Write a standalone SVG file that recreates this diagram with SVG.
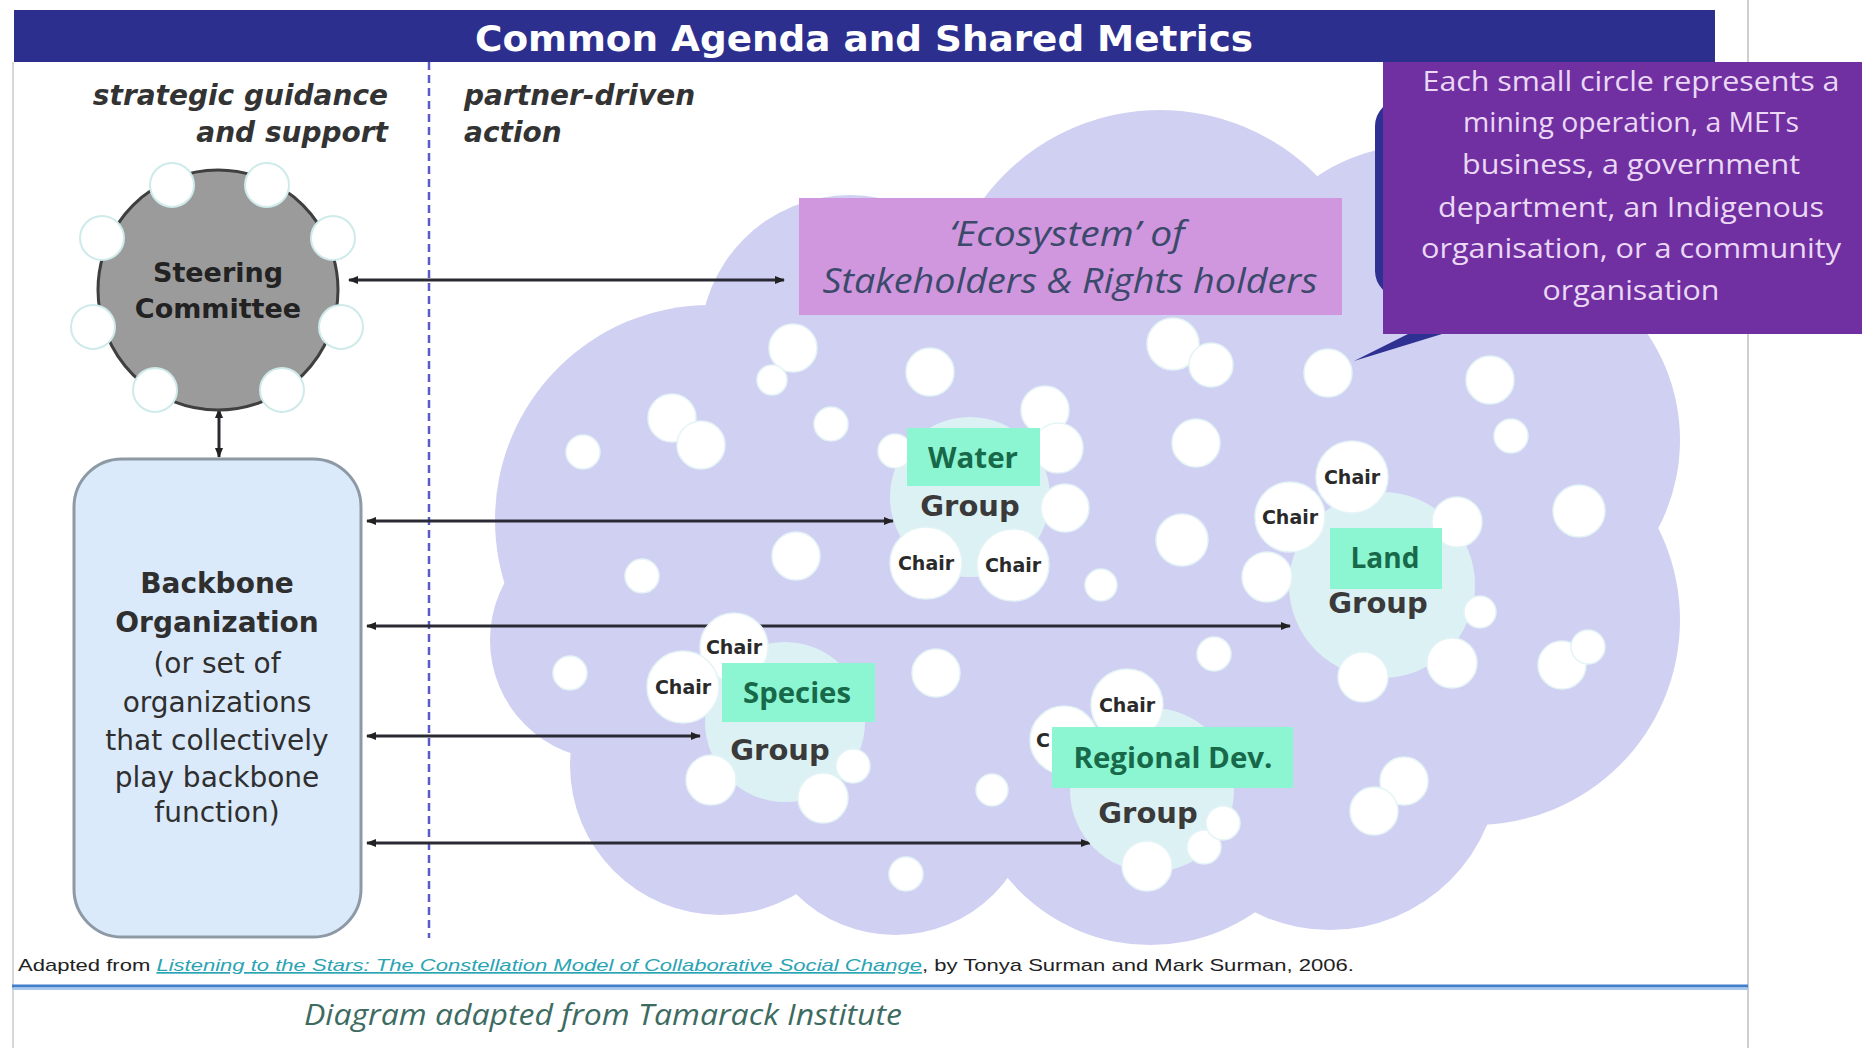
<svg xmlns="http://www.w3.org/2000/svg" width="1862" height="1048" viewBox="0 0 1862 1048">
<defs>
<style>
.dv{font-family:"DejaVu Sans",Verdana,sans-serif}
.lb{font-family:"Liberation Sans",Arial,sans-serif}
.os{font-family:"Open Sans","Noto Sans",sans-serif}
.cloud{fill:#d0d0f2}
.dot{fill:#ffffff;stroke:#e4f4f6;stroke-width:1.5}
.blob{fill:#dcf1f4}
.gbox{fill:#8cf6d2}
.gtxt{font-family:"Open Sans","Noto Sans",sans-serif;font-weight:700;fill:#17694a;text-anchor:middle}
.grp{font-family:"DejaVu Sans",sans-serif;font-weight:700;fill:#3a3a3a;text-anchor:middle;font-size:29px}
.chair{font-family:"DejaVu Sans",sans-serif;font-weight:700;fill:#2a2a2a;text-anchor:middle;font-size:19px}
.conn{stroke:#2a2a35;stroke-width:3;fill:none;marker-start:url(#ah);marker-end:url(#ah)}
.sc{fill:#ffffff;stroke:#cfeaea;stroke-width:2}
.bb{font-family:"DejaVu Sans",sans-serif;fill:#2f2f2f;text-anchor:middle;font-size:28px}
.ct{font-family:"Open Sans","Noto Sans",sans-serif;fill:#ead8f4;text-anchor:middle;font-size:28px}
</style>
<marker id="ah" viewBox="0 0 10 10" refX="9" refY="5" markerWidth="12" markerHeight="10" markerUnits="userSpaceOnUse" orient="auto-start-reverse">
<path d="M0,1 L10,5 L0,9 z" fill="#222"/>
</marker>
</defs>

<rect x="0" y="0" width="1862" height="1048" fill="#ffffff"/>

<!-- frame lines -->
<line x1="13" y1="62" x2="13" y2="1048" stroke="#d8d8d8" stroke-width="2"/>
<line x1="1748" y1="0" x2="1748" y2="1048" stroke="#cfcfcf" stroke-width="2"/>

<!-- header -->
<g id="header">
<rect x="14" y="10" width="1701" height="52" fill="#2d2f8f"/>
<text x="864" y="51" class="dv" font-weight="700" font-size="36" fill="#ffffff" text-anchor="middle" textLength="778" lengthAdjust="spacingAndGlyphs">Common Agenda and Shared Metrics</text>
</g>

<!-- column labels -->
<g id="labels">
<text x="388" y="105" class="dv" font-weight="700" font-style="italic" font-size="28" fill="#333333" text-anchor="end">strategic guidance</text>
<text x="388" y="142" class="dv" font-weight="700" font-style="italic" font-size="28" fill="#333333" text-anchor="end">and support</text>
<text x="464" y="105" class="dv" font-weight="700" font-style="italic" font-size="28" fill="#333333">partner-driven</text>
<text x="464" y="142" class="dv" font-weight="700" font-style="italic" font-size="28" fill="#333333">action</text>
</g>

<line x1="429" y1="62" x2="429" y2="938" stroke="#5a5ac8" stroke-width="2.5" stroke-dasharray="8 5"/>

<!-- cloud -->
<g id="ecosystem-cloud" class="cloud">
<ellipse cx="1120" cy="560" rx="400" ry="260"/>
<circle cx="850" cy="345" r="150"/>
<circle cx="1160" cy="330" r="220"/>
<circle cx="1420" cy="330" r="185"/>
<circle cx="1490" cy="440" r="190"/>
<circle cx="710" cy="520" r="215"/>
<circle cx="610" cy="640" r="120"/>
<circle cx="720" cy="765" r="150"/>
<circle cx="895" cy="795" r="140"/>
<circle cx="1150" cy="760" r="185"/>
<circle cx="1330" cy="760" r="170"/>
<circle cx="1475" cy="620" r="205"/>
</g>

<!-- callout -->
<g id="callout">
<rect x="1375" y="100" width="120" height="197" rx="26" fill="#2e3192"/>
<polygon points="1354,361 1408,334 1442,334" fill="#2e3192"/>
<rect x="1383" y="62" width="479" height="272" fill="#7030a2"/>
<text x="1631" y="91" class="ct" textLength="417" lengthAdjust="spacingAndGlyphs">Each small circle represents a</text>
<text x="1631" y="132" class="ct" textLength="336" lengthAdjust="spacingAndGlyphs">mining operation, a METs</text>
<text x="1631" y="174" class="ct" textLength="338" lengthAdjust="spacingAndGlyphs">business, a government</text>
<text x="1631" y="217" class="ct" textLength="386" lengthAdjust="spacingAndGlyphs">department, an Indigenous</text>
<text x="1631" y="258" class="ct" textLength="420" lengthAdjust="spacingAndGlyphs">organisation, or a community</text>
<text x="1631" y="300" class="ct" textLength="177" lengthAdjust="spacingAndGlyphs">organisation</text>
</g>

<!-- ecosystem label -->
<g id="ecosystem-label">
<rect x="799" y="198" width="543" height="117" fill="#d096de"/>
<text x="1067" y="246" class="os" font-style="italic" font-size="34" fill="#3b4a6b" text-anchor="middle" textLength="235" lengthAdjust="spacingAndGlyphs">‘Ecosystem’ of</text>
<text x="1070" y="293" class="os" font-style="italic" font-size="34" fill="#3b4a6b" text-anchor="middle" textLength="495" lengthAdjust="spacingAndGlyphs">Stakeholders &amp; Rights holders</text>
</g>

<!-- connectors -->
<g id="connectors">
<line class="conn" x1="349" y1="280" x2="784" y2="280"/>
<line class="conn" x1="219" y1="409" x2="219" y2="457"/>
<line class="conn" x1="367" y1="521" x2="893" y2="521"/>
<line class="conn" x1="367" y1="626" x2="1290" y2="626"/>
<line class="conn" x1="367" y1="736" x2="700" y2="736"/>
<line class="conn" x1="367" y1="843" x2="1090" y2="843"/>
</g>

<!-- free-standing stakeholder circles -->
<g id="stakeholders">
<circle class="dot" cx="793" cy="348" r="24"/>
<circle class="dot" cx="772" cy="380" r="15"/>
<circle class="dot" cx="930" cy="372" r="24"/>
<circle class="dot" cx="672" cy="418" r="24"/>
<circle class="dot" cx="701" cy="445" r="24"/>
<circle class="dot" cx="583" cy="452" r="17"/>
<circle class="dot" cx="831" cy="424" r="17"/>
<circle class="dot" cx="1173" cy="344" r="26"/>
<circle class="dot" cx="1211" cy="365" r="22"/>
<circle class="dot" cx="1328" cy="373" r="24"/>
<circle class="dot" cx="1490" cy="380" r="24"/>
<circle class="dot" cx="1196" cy="443" r="24"/>
<circle class="dot" cx="1511" cy="436" r="17"/>
<circle class="dot" cx="1182" cy="540" r="26"/>
<circle class="dot" cx="1579" cy="511" r="26"/>
<circle class="dot" cx="796" cy="556" r="24"/>
<circle class="dot" cx="642" cy="576" r="17"/>
<circle class="dot" cx="1101" cy="585" r="16"/>
<circle class="dot" cx="1562" cy="665" r="24"/>
<circle class="dot" cx="1588" cy="647" r="17"/>
<circle class="dot" cx="1214" cy="654" r="17"/>
<circle class="dot" cx="936" cy="673" r="24"/>
<circle class="dot" cx="570" cy="673" r="17"/>
<circle class="dot" cx="992" cy="790" r="16"/>
<circle class="dot" cx="1404" cy="781" r="24"/>
<circle class="dot" cx="1374" cy="811" r="24"/>
<circle class="dot" cx="906" cy="874" r="17"/>
</g>

<!-- Water group -->
<g id="water-group">
<circle class="blob" cx="970" cy="497" r="80"/>
<circle class="dot" cx="895" cy="451" r="17"/>
<circle class="dot" cx="1045" cy="410" r="24"/>
<circle class="dot" cx="1058" cy="448" r="25"/>
<circle class="dot" cx="1065" cy="508" r="24"/>
<circle class="dot" cx="926" cy="563" r="36"/>
<text class="chair" x="926" y="570">Chair</text>
<circle class="dot" cx="1013" cy="565" r="36"/>
<text class="chair" x="1013" y="572">Chair</text>
<rect class="gbox" x="907" y="428" width="133" height="58"/>
<text class="gtxt" x="973" y="468" font-size="29" textLength="90" lengthAdjust="spacingAndGlyphs">Water</text>
<text class="grp" x="970" y="516">Group</text>
</g>

<!-- Land group -->
<g id="land-group">
<circle class="blob" cx="1382" cy="585" r="93"/>
<circle class="dot" cx="1267" cy="577" r="25"/>
<circle class="dot" cx="1457" cy="522" r="25"/>
<circle class="dot" cx="1480" cy="612" r="16"/>
<circle class="dot" cx="1452" cy="663" r="25"/>
<circle class="dot" cx="1363" cy="677" r="25"/>
<circle class="dot" cx="1290" cy="517" r="35"/>
<text class="chair" x="1290" y="524">Chair</text>
<circle class="dot" cx="1352" cy="477" r="36"/>
<text class="chair" x="1352" y="484">Chair</text>
<rect class="gbox" x="1330" y="528" width="112" height="61"/>
<text class="gtxt" x="1385" y="568" font-size="29" textLength="69" lengthAdjust="spacingAndGlyphs">Land</text>
<text class="grp" x="1378" y="613">Group</text>
</g>

<!-- Species group -->
<g id="species-group">
<circle class="blob" cx="785" cy="722" r="80"/>
<circle class="dot" cx="711" cy="780" r="25"/>
<circle class="dot" cx="823" cy="798" r="25"/>
<circle class="dot" cx="853" cy="766" r="17"/>
<circle class="dot" cx="734" cy="647" r="34"/>
<text class="chair" x="734" y="654">Chair</text>
<circle class="dot" cx="683" cy="687" r="36"/>
<text class="chair" x="683" y="694">Chair</text>
<rect class="gbox" x="722" y="663" width="153" height="59"/>
<text class="gtxt" x="797" y="703" font-size="29" textLength="108" lengthAdjust="spacingAndGlyphs">Species</text>
<text class="grp" x="780" y="760">Group</text>
</g>

<!-- Regional Dev. group -->
<g id="regional-group">
<circle class="blob" cx="1152" cy="790" r="82"/>
<circle class="dot" cx="1147" cy="866" r="25"/>
<circle class="dot" cx="1204" cy="847" r="17"/>
<circle class="dot" cx="1223" cy="823" r="17"/>
<circle class="dot" cx="1127" cy="705" r="36"/>
<text class="chair" x="1127" y="712">Chair</text>
<circle class="dot" cx="1064" cy="740" r="34"/>
<text class="chair" x="1036" y="747" text-anchor="start" style="text-anchor:start">C</text>
<rect class="gbox" x="1052" y="727" width="241" height="61"/>
<text class="gtxt" x="1173" y="768" font-size="29" textLength="199" lengthAdjust="spacingAndGlyphs">Regional Dev.</text>
<text class="grp" x="1148" y="823">Group</text>
</g>

<!-- Steering Committee -->
<g id="steering-committee">
<circle cx="218" cy="290" r="120" fill="#9b9b9b" stroke="#3f3f3f" stroke-width="3"/>
<circle class="sc" cx="172" cy="185" r="22"/>
<circle class="sc" cx="267" cy="185" r="22"/>
<circle class="sc" cx="102" cy="238" r="22"/>
<circle class="sc" cx="333" cy="238" r="22"/>
<circle class="sc" cx="93" cy="327" r="22"/>
<circle class="sc" cx="341" cy="327" r="22"/>
<circle class="sc" cx="155" cy="390" r="22"/>
<circle class="sc" cx="282" cy="390" r="22"/>
<text x="218" y="282" class="dv" font-weight="700" font-size="27" fill="#222222" text-anchor="middle">Steering</text>
<text x="218" y="318" class="dv" font-weight="700" font-size="27" fill="#222222" text-anchor="middle">Committee</text>
</g>

<!-- Backbone Organization -->
<g id="backbone-organization">
<rect x="74" y="459" width="287" height="478" rx="48" fill="#dbeafa" stroke="#8d9aa6" stroke-width="3"/>
<text class="bb" x="217" y="593" font-weight="700">Backbone</text>
<text class="bb" x="217" y="632" font-weight="700">Organization</text>
<text class="bb" x="217" y="673">(or set of</text>
<text class="bb" x="217" y="712">organizations</text>
<text class="bb" x="217" y="750">that collectively</text>
<text class="bb" x="217" y="787">play backbone</text>
<text class="bb" x="217" y="822">function)</text>
</g>

<!-- footer -->
<g id="footer">
<text x="18" y="971" class="lb" font-size="17" fill="#222222" textLength="1336" lengthAdjust="spacingAndGlyphs">Adapted from <tspan fill="#2aa4b4" font-style="italic" text-decoration="underline">Listening to the Stars: The Constellation Model of Collaborative Social Change</tspan>, by Tonya Surman and Mark Surman, 2006.</text>
<line x1="12" y1="986" x2="1748" y2="986" stroke="#3f7fcc" stroke-width="3"/>
<line x1="12" y1="989" x2="1748" y2="989" stroke="#a9c8ea" stroke-width="2"/>
<text x="603" y="1025" class="os" font-style="italic" font-size="30" fill="#3d6b62" text-anchor="middle" textLength="598" lengthAdjust="spacingAndGlyphs">Diagram adapted from Tamarack Institute</text>
</g>
</svg>
